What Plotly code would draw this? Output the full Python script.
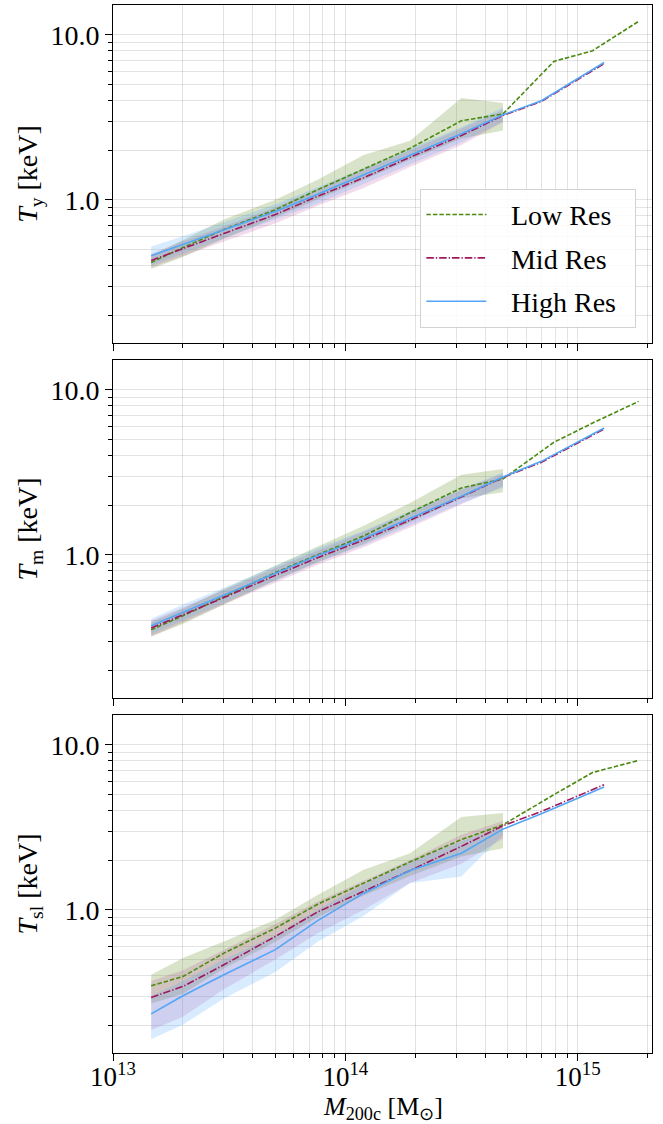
import plotly.graph_objects as go
from plotly.subplots import make_subplots

# ---------------- data ----------------
# halo masses (Msun) of the binned medians
mass_common = [1.46e13, 2.0e13, 3.0e13, 5.0e13, 7.6e13, 1.2e14, 1.9e14, 3.16e14, 4.77e14]
mass_low_hi = [7.9e14, 1.16e15, 1.83e15]     # extra Low Res bins
mass_midhigh_hi = [6.98e14, 1.30e15]          # extra Mid/High Res bins

# Panel 1: T_y [keV]
ty_low = [0.417, 0.513, 0.66, 0.87, 1.15, 1.53, 2.05, 3.01, 3.31, 6.89, 8.0, 12.05]
ty_low_lo = [0.38, 0.45, 0.58, 0.78, 1.0, 1.32, 1.75, 2.35, 2.63]
ty_low_hi = [0.46, 0.57, 0.76, 1.0, 1.32, 1.87, 2.28, 4.13, 3.85]
ty_mid = [0.429, 0.507, 0.624, 0.813, 1.05, 1.36, 1.81, 2.45, 3.24, 3.94, 6.68]
ty_mid_lo = [0.39, 0.46, 0.56, 0.72, 0.92, 1.18, 1.58, 2.15, 2.95]
ty_mid_hi = [0.47, 0.56, 0.69, 0.90, 1.16, 1.52, 2.0, 2.70, 3.50]
ty_high = [0.458, 0.537, 0.658, 0.85, 1.08, 1.41, 1.86, 2.51, 3.27, 3.98, 6.79]
ty_high_lo = [0.40, 0.47, 0.58, 0.76, 0.95, 1.24, 1.64, 2.22, 2.98]
ty_high_hi = [0.52, 0.60, 0.73, 0.94, 1.19, 1.55, 2.05, 2.75, 3.62]

# Panel 2: T_m [keV]
tm_low = [0.351, 0.427, 0.556, 0.78, 1.0, 1.30, 1.80, 2.54, 2.88, 4.8, 6.28, 8.5]
tm_low_lo = [0.32, 0.38, 0.50, 0.70, 0.90, 1.16, 1.58, 2.2, 2.39]
tm_low_hi = [0.39, 0.47, 0.62, 0.86, 1.12, 1.50, 2.06, 3.05, 3.31]
tm_mid = [0.36, 0.432, 0.55, 0.75, 0.96, 1.23, 1.62, 2.24, 2.94, 3.63, 5.78]
tm_mid_lo = [0.32, 0.39, 0.50, 0.68, 0.87, 1.11, 1.46, 2.02, 2.6]
tm_mid_hi = [0.40, 0.48, 0.61, 0.83, 1.06, 1.37, 1.80, 2.48, 3.1]
tm_high = [0.371, 0.447, 0.569, 0.773, 0.99, 1.26, 1.66, 2.26, 2.96, 3.68, 5.86]
tm_high_lo = [0.33, 0.40, 0.51, 0.70, 0.90, 1.14, 1.50, 2.05, 2.55]
tm_high_hi = [0.41, 0.50, 0.63, 0.86, 1.10, 1.40, 1.85, 2.50, 3.15]

# Panel 3: T_sl [keV]
tsl_low = [0.346, 0.394, 0.546, 0.774, 1.08, 1.45, 1.95, 2.66, 3.27, 4.98, 6.79, 8.03]
tsl_low_lo = [0.27, 0.31, 0.44, 0.64, 0.90, 1.22, 1.60, 2.1, 2.36]
tsl_low_hi = [0.404, 0.51, 0.643, 0.87, 1.23, 1.75, 2.2, 3.65, 3.85]
tsl_mid = [0.294, 0.343, 0.464, 0.689, 0.97, 1.29, 1.73, 2.42, 3.23, 3.94, 5.72]
tsl_mid_lo = [0.187, 0.225, 0.33, 0.50, 0.72, 1.0, 1.45, 1.9, 2.7]
tsl_mid_hi = [0.37, 0.43, 0.57, 0.82, 1.12, 1.50, 2.0, 2.85, 3.45]
tsl_high = [0.234, 0.301, 0.404, 0.573, 0.86, 1.26, 1.73, 2.2, 3.08, 3.82, 5.54]
tsl_high_lo = [0.164, 0.201, 0.29, 0.42, 0.64, 0.92, 1.45, 1.59, 2.85]
tsl_high_hi = [0.30, 0.37, 0.50, 0.70, 1.0, 1.42, 1.95, 2.6, 3.2]

series_names = ["Low Res", "Mid Res", "High Res"]
y_titles = ["<i>T</i><sub>y</sub> [keV]", "<i>T</i><sub>m</sub> [keV]", "<i>T</i><sub>sl</sub> [keV]"]
x_title = "<i>M</i><sub>200c</sub> [M<sub>⊙</sub>]"
x_tickvals = [1e13, 1e14, 1e15]
x_ticktext = ["10<sup>13</sup>", "10<sup>14</sup>", "10<sup>15</sup>"]
y_tickvals = [1, 10]
y_ticktext = ["1.0", "10.0"]

# ---------------- style ----------------
FONT = "Liberation Serif"
line_colors = ["#4b8a12", "#a0175e", "#52a6f5"]
fill_colors = ["rgba(100,145,45,0.25)", "rgba(175,40,130,0.16)", "rgba(80,165,255,0.22)"]
dashes = ["4.5px,2px", "7.5px,2px,1.3px,2px", "solid"]
SP = "\u2002\u2009"
SP_END = "\u2002"

panels = [
    [(ty_low, ty_low_lo, ty_low_hi), (ty_mid, ty_mid_lo, ty_mid_hi), (ty_high, ty_high_lo, ty_high_hi)],
    [(tm_low, tm_low_lo, tm_low_hi), (tm_mid, tm_mid_lo, tm_mid_hi), (tm_high, tm_high_lo, tm_high_hi)],
    [(tsl_low, tsl_low_lo, tsl_low_hi), (tsl_mid, tsl_mid_lo, tsl_mid_hi), (tsl_high, tsl_high_lo, tsl_high_hi)],
]
mass_full = [mass_common + mass_low_hi, mass_common + mass_midhigh_hi, mass_common + mass_midhigh_hi]

fig = make_subplots(rows=3, cols=1, shared_xaxes=True, vertical_spacing=17 / 1048)

for r, panel in enumerate(panels, start=1):
    # shaded scatter bands
    for i, (med, lo, hi) in enumerate(panel):
        fig.add_trace(go.Scatter(
            x=mass_common + mass_common[::-1], y=hi + lo[::-1],
            fill="toself", fillcolor=fill_colors[i], line=dict(width=0),
            mode="lines", showlegend=False, hoverinfo="skip"), row=r, col=1)
    # median lines
    for i, (med, lo, hi) in enumerate(panel):
        fig.add_trace(go.Scatter(
            x=mass_full[i], y=med, mode="lines", name=SP + series_names[i] + SP_END,
            legendgroup=series_names[i], showlegend=(r == 1),
            line=dict(color=line_colors[i], width=1.6, dash=dashes[i])), row=r, col=1)

grid_c = "rgba(0,0,0,0.11)"
x_minor = [m * 10 ** e for e in (13, 14, 15) for m in range(2, 10) if m * 10 ** e < 2.2e15]
y_minor = [m * 10 ** e for e in (-1, 0, 1) for m in range(2, 10) if 0.13 < m * 10 ** e < 16]

for r in range(1, 4):
    fig.update_xaxes(type="log", range=[13, 15.32], tickmode="array", tickvals=x_tickvals,
                     ticktext=x_ticktext, ticks="outside", ticklen=7, tickcolor="black",
                     showline=True, linecolor="black", linewidth=1, mirror=True,
                     showgrid=True, gridcolor=grid_c, gridwidth=1, automargin=False,
                     minor=dict(tickmode="array", tickvals=x_minor, ticks="outside", ticklen=4,
                                tickcolor="black", showgrid=True, gridcolor=grid_c, gridwidth=1),
                     tickfont=dict(family=FONT, size=27, color="black"),
                     ticklabelstandoff=-7,
                     zeroline=False, row=r, col=1)
    fig.update_yaxes(type="log", range=[-0.868, 1.18], tickmode="array", tickvals=y_tickvals,
                     ticktext=y_ticktext, ticks="outside", ticklen=7, tickcolor="black",
                     showline=True, linecolor="black", linewidth=1, mirror=True,
                     showgrid=True, gridcolor=grid_c, gridwidth=1, automargin=False,
                     minor=dict(tickmode="array", tickvals=y_minor, ticks="outside", ticklen=4,
                                tickcolor="black", showgrid=True, gridcolor=grid_c, gridwidth=1),
                     tickfont=dict(family=FONT, size=28, color="black"),
                     title=dict(text=y_titles[r - 1], font=dict(family=FONT, size=28, color="black"),
                                standoff=4),
                     zeroline=False, row=r, col=1)

# x-axis title (placed as a paper annotation for precise spacing)
fig.add_annotation(text=x_title, xref="paper", yref="paper", x=0.5, y=0,
                   xanchor="center", yanchor="top", yshift=-37, showarrow=False,
                   font=dict(family=FONT, size=26, color="black"))

fig.update_layout(
    width=663, height=1124,
    margin=dict(l=113, r=11, t=5, b=71),
    paper_bgcolor="white", plot_bgcolor="white",
    font=dict(family=FONT, color="black"),
    showlegend=True,
    legend=dict(x=0.971, y=0.692, xanchor="right", yanchor="bottom",
                bgcolor="rgba(255,255,255,0.85)", bordercolor="rgb(210,210,210)", borderwidth=1,
                font=dict(family=FONT, size=28, color="black"), itemwidth=60,
                tracegroupgap=4),
)

fig.write_html("out.html", config={"displayModeBar": False},
               post_script="document.body.style.margin='0px';")
